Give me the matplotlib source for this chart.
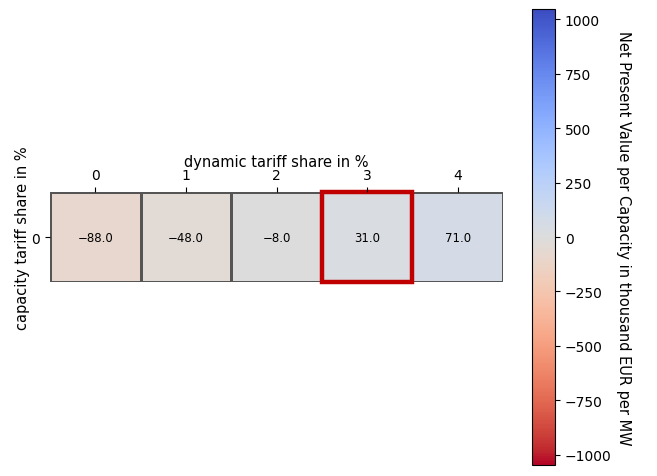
import numpy as np
import matplotlib
matplotlib.use("Agg")
import matplotlib.pyplot as plt
from matplotlib.patches import Rectangle
from matplotlib.colors import Normalize

# Kapitalwert je Kapazität (Tsd. EUR/MW) über dynamischen Tarifanteil
dynamic_share = [0, 1, 2, 3, 4]
capacity_share = [0]
npv = np.array([[-88.0, -48.0, -8.0, 31.0, 71.0]])
best_col = 3
vlim = 1046

fig = plt.figure(figsize=(6.57, 4.77), dpi=100)
ax = fig.add_axes([50 / 657, 1 - 283 / 477, 453 / 657, 90 / 477])
cax = fig.add_axes([532 / 657, 1 - 466 / 477, 23 / 657, 456 / 477])

norm = Normalize(vmin=-vlim, vmax=vlim)
mesh = ax.pcolormesh(npv, cmap="coolwarm_r", norm=norm,
                     edgecolors="#555555", linewidth=0.8)
ax.set_xlim(0, len(dynamic_share))
ax.set_ylim(len(capacity_share), 0)

for i in range(npv.shape[0]):
    for j in range(npv.shape[1]):
        ax.text(j + 0.5, i + 0.5, f"{npv[i, j]:.1f}".replace("-", "\u2212"),
                ha="center", va="center", fontsize=8.5)

ax.add_patch(Rectangle((best_col, 0), 1, 1, fill=False,
                       edgecolor="#c00000", linewidth=3.2, clip_on=False))

ax.xaxis.tick_top()
ax.xaxis.set_label_position("top")
ax.set_xticks(np.arange(len(dynamic_share)) + 0.5)
ax.set_xticklabels(dynamic_share)
ax.set_yticks(np.arange(len(capacity_share)) + 0.5)
ax.set_yticklabels(capacity_share, rotation=0)
ax.tick_params(labelsize=10)
ax.set_xlabel("dynamic tariff share in %", fontsize=10.5, labelpad=2)
ax.set_ylabel("capacity tariff share in %", fontsize=10.5, labelpad=1)
for s in ax.spines.values():
    s.set_visible(False)

cb = fig.colorbar(mesh, cax=cax)
cb.set_ticks([-1000, -750, -500, -250, 0, 250, 500, 750, 1000])
cb.ax.tick_params(labelsize=10)
cb.set_label("Net Present Value per Capacity in thousand EUR per MW",
             rotation=270, fontsize=10.5, labelpad=14)

fig.savefig("out.png", dpi=100)
